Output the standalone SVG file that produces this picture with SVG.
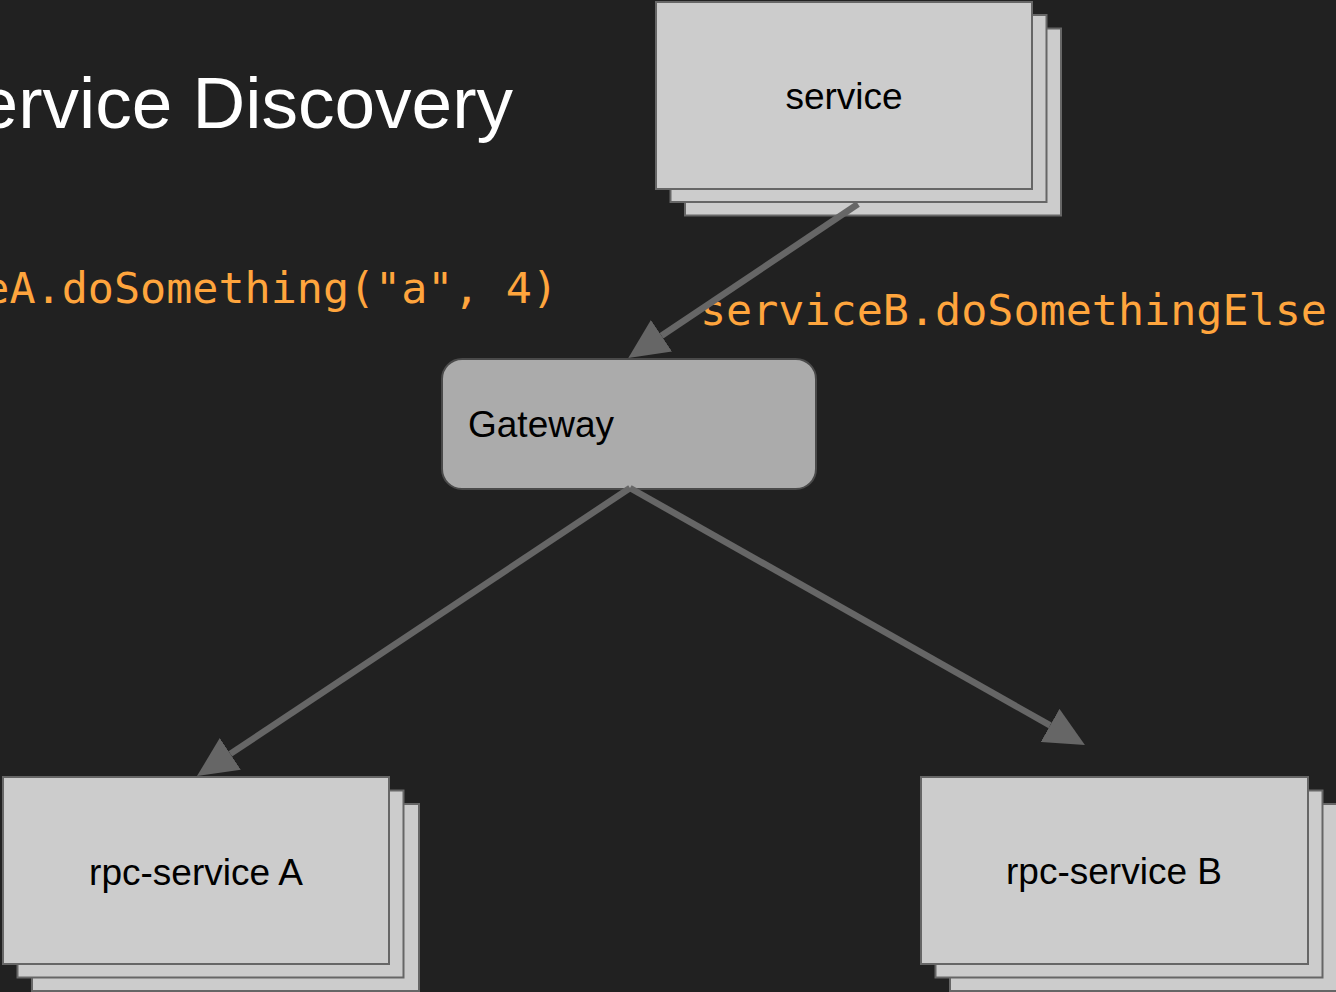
<svg xmlns="http://www.w3.org/2000/svg" width="1336" height="992" viewBox="0 0 1336 992">
  <style>
    .card { fill: #cccccc; stroke: #666666; stroke-width: 2; }
    .gw { fill: #ababab; stroke: #4a4a4a; stroke-width: 2; }
    .label { font-family: "Liberation Sans", Arial, sans-serif; font-size: 37px; fill: #000000; }
    .title { font-family: "Liberation Sans", Arial, sans-serif; font-size: 73px; fill: #ffffff; }
    .code { font-family: "DejaVu Sans Mono", "Liberation Mono", monospace; font-size: 43.4px; fill: #ffa53d; }
    .edge { stroke: #666666; stroke-width: 6.5; fill: none; stroke-linecap: butt; }
  </style>
  <defs>
    <marker id="arrow" markerUnits="userSpaceOnUse" markerWidth="40" markerHeight="38" viewBox="0 0 40 38" refX="0" refY="19" orient="auto">
      <path d="M0,0 L40,19 L0,38 z" fill="#666666"/>
    </marker>
  </defs>

  <rect x="0" y="0" width="1336" height="992" fill="#212121"/>

  <!-- heading and call labels -->
  <text class="title" x="513" y="128" text-anchor="end">Service Discovery</text>
  <text class="code" x="558" y="303" text-anchor="end">serviceA.doSomething("a", 4)</text>
  <text class="code" x="700" y="325">serviceB.doSomethingElse</text>

  <!-- calling service (stacked instances) -->
  <g id="service">
    <rect class="card" x="685" y="28.5" width="376" height="187"/>
    <rect class="card" x="670.5" y="15" width="376" height="187"/>
    <rect class="card" x="656" y="2" width="376" height="187"/>
    <text class="label" x="844" y="109" text-anchor="middle">service</text>
  </g>

  <!-- gateway -->
  <g id="gateway">
    <rect class="gw" x="442" y="359" width="374" height="130" rx="20" ry="20"/>
    <text class="label" x="468" y="437">Gateway</text>
  </g>

  <!-- rpc-service A (stacked instances) -->
  <g id="rpc-service-a">
    <rect class="card" x="32" y="804" width="387" height="187"/>
    <rect class="card" x="17.5" y="790.5" width="386" height="187"/>
    <rect class="card" x="3" y="777" width="386" height="187"/>
    <text class="label" x="196" y="885" text-anchor="middle">rpc-service A</text>
  </g>

  <!-- rpc-service B (stacked instances) -->
  <g id="rpc-service-b">
    <rect class="card" x="950" y="804" width="387" height="187"/>
    <rect class="card" x="935.5" y="790.5" width="387" height="187"/>
    <rect class="card" x="921" y="777" width="387" height="187"/>
    <text class="label" x="1114" y="884" text-anchor="middle">rpc-service B</text>
  </g>

  <!-- connectors, drawn over the boxes -->
  <g id="connectors">
    <line class="edge" x1="858" y1="204" x2="661.5" y2="335.8" marker-end="url(#arrow)"/>
    <line class="edge" x1="630" y1="488" x2="230.3" y2="753.9" marker-end="url(#arrow)"/>
    <line class="edge" x1="630" y1="488" x2="1050.1" y2="725.4" marker-end="url(#arrow)"/>
  </g>
</svg>
